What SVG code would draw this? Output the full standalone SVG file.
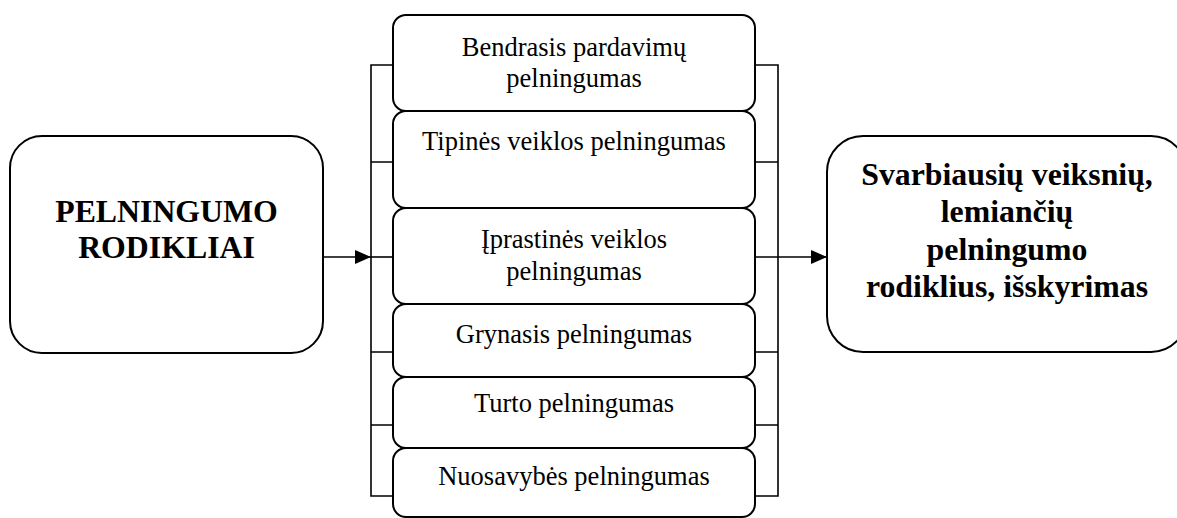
<svg xmlns="http://www.w3.org/2000/svg" width="1177" height="518" viewBox="0 0 1177 518">
  <style>
    .box { fill: #ffffff; stroke: #000000; stroke-width: 2; }
    .line { fill: none; stroke: #000000; stroke-width: 1.6; }
    .big { font-family: "Liberation Serif", "Times New Roman", serif; font-weight: bold; font-size: 31.8px; fill: #000000; text-anchor: middle; }
    .item { font-family: "Liberation Serif", "Times New Roman", serif; font-size: 26.5px; fill: #000000; text-anchor: middle; }
  </style>
  <defs>
    <marker id="arrow" viewBox="0 0 16 14" refX="16" refY="7" markerWidth="16" markerHeight="14" markerUnits="userSpaceOnUse" orient="auto">
      <path d="M0,0 L16,7 L0,14 Z" fill="#000000"/>
    </marker>
  </defs>
  <rect width="1177" height="518" fill="#ffffff"/>

  <!-- connectors: brackets on both sides of the list and the two arrows -->
  <g id="connectors">
    <path class="line" d="M393,65 H371 V496 H393"/>
    <path class="line" d="M371,162 H393 M371,352 H393 M371,425 H393"/>
    <path class="line" d="M755,65 H778 V496 H755"/>
    <path class="line" d="M755,162 H778 M755,257 H778 M755,352 H778 M755,425 H778"/>
    <path class="line" d="M371,257 H393"/>
    <line class="line" x1="323" y1="257" x2="371" y2="257" marker-end="url(#arrow)"/>
    <line class="line" x1="778" y1="257" x2="827" y2="257" marker-end="url(#arrow)"/>
  </g>

  <g id="pelningumo-rodikliai">
    <rect class="box" x="10" y="136" width="313" height="217" rx="32" ry="32"/>
    <text class="big" x="166.5" y="222">PELNINGUMO</text>
    <text class="big" x="166.5" y="258">RODIKLIAI</text>
  </g>

  <g id="bendrasis">
    <rect class="box" x="393" y="15" width="362" height="96" rx="13" ry="13"/>
    <text class="item" x="574" y="56">Bendrasis pardavimų</text>
    <text class="item" x="574" y="87">pelningumas</text>
  </g>

  <g id="tipines">
    <rect class="box" x="393" y="111" width="362" height="97" rx="13" ry="13"/>
    <text class="item" x="574" y="150">Tipinės veiklos pelningumas</text>
  </g>

  <g id="iprastines">
    <rect class="box" x="393" y="208" width="362" height="96" rx="13" ry="13"/>
    <text class="item" x="574" y="248">Įprastinės veiklos</text>
    <text class="item" x="574" y="280">pelningumas</text>
  </g>

  <g id="grynasis">
    <rect class="box" x="393" y="304" width="362" height="73" rx="13" ry="13"/>
    <text class="item" x="574" y="343">Grynasis pelningumas</text>
  </g>

  <g id="turto">
    <rect class="box" x="393" y="377" width="362" height="71" rx="13" ry="13"/>
    <text class="item" x="574" y="412">Turto pelningumas</text>
  </g>

  <g id="nuosavybes">
    <rect class="box" x="393" y="448" width="362" height="69" rx="13" ry="13"/>
    <text class="item" x="574" y="485">Nuosavybės pelningumas</text>
  </g>

  <g id="svarbiausiu-veiksniu">
    <rect class="box" x="827" y="136" width="360" height="216" rx="36" ry="36"/>
    <text class="big" x="1007" y="185">Svarbiausių veiksnių,</text>
    <text class="big" x="1007" y="222">lemiančių</text>
    <text class="big" x="1007" y="260">pelningumo</text>
    <text class="big" x="1007" y="297">rodiklius, išskyrimas</text>
  </g>
</svg>
